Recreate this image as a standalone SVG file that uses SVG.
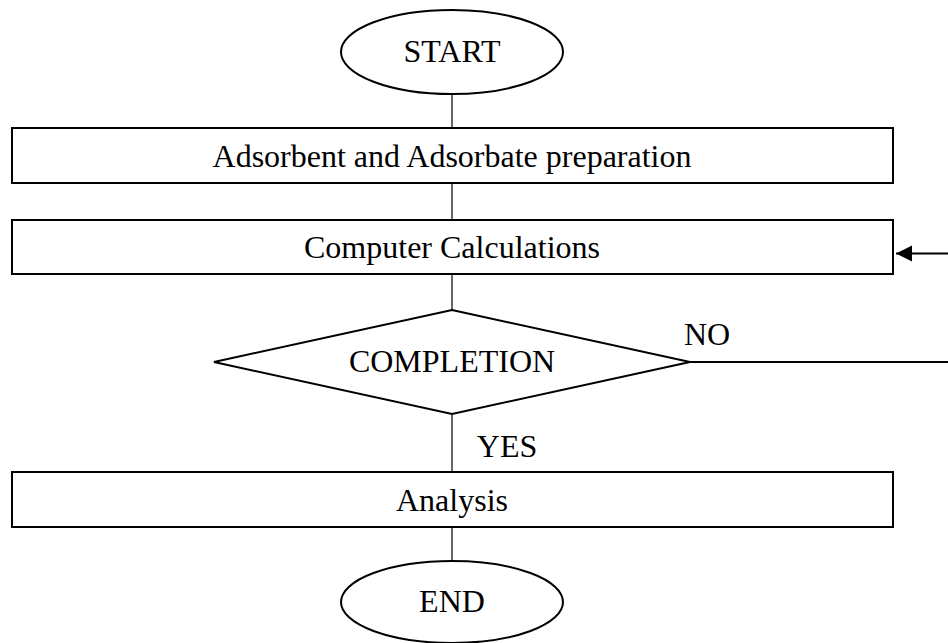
<svg xmlns="http://www.w3.org/2000/svg" width="948" height="643" viewBox="0 0 948 643">
<style>
.s{fill:#fff;stroke:#000;stroke-width:2}
.t{font-family:"Liberation Serif","Times New Roman",serif;font-size:32px;fill:#000;text-anchor:middle}
.c{stroke:#000;stroke-width:1.2;fill:none}
.h{stroke:#000;stroke-width:2;fill:none}
</style>
<defs>
<marker id="ah" markerUnits="userSpaceOnUse" markerWidth="17" markerHeight="17" refX="16" refY="8" orient="auto">
<path d="M0,0 L16,8 L0,16 Z" fill="#000"/>
</marker>
</defs>
<g id="connectors">
<line class="c" x1="452" y1="94" x2="452" y2="128"/>
<line class="c" x1="452" y1="183" x2="452" y2="220"/>
<line class="c" x1="452" y1="274" x2="452" y2="310"/>
<line class="c" x1="452" y1="414" x2="452" y2="472"/>
<line class="c" x1="452" y1="527" x2="452" y2="561"/>
<line class="h" x1="690" y1="362" x2="948" y2="362"/>
<line class="h" x1="948" y1="253.5" x2="896" y2="253.5" marker-end="url(#ah)"/>
<text class="t" x="707" y="345">NO</text>
<text class="t" x="507" y="457">YES</text>
</g>
<g id="start">
<ellipse class="s" cx="452" cy="52" rx="111" ry="42"/>
<text class="t" x="452" y="62">START</text>
</g>
<g id="prep">
<rect class="s" x="12" y="128" width="881" height="55"/>
<text class="t" x="452" y="167">Adsorbent and Adsorbate preparation</text>
</g>
<g id="calc">
<rect class="s" x="12" y="220" width="881" height="54"/>
<text class="t" x="452" y="258">Computer Calculations</text>
</g>
<g id="completion">
<polygon class="s" points="452,310 690,362 452,414 214,362"/>
<text class="t" x="452" y="372">COMPLETION</text>
</g>
<g id="analysis">
<rect class="s" x="12" y="472" width="881" height="55"/>
<text class="t" x="452" y="511">Analysis</text>
</g>
<g id="end">
<ellipse class="s" cx="452" cy="602" rx="111" ry="41"/>
<text class="t" x="452" y="612">END</text>
</g>
</svg>
